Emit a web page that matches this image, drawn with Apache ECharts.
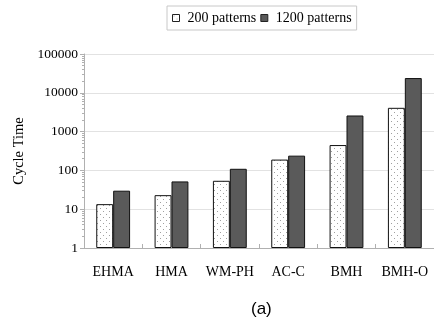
<!DOCTYPE html>
<html>
<head>
<meta charset="utf-8">
<script src="https://cdn.jsdelivr.net/npm/echarts@6/dist/echarts.min.js"></script>
<style>
  html, body { margin: 0; padding: 0; background: #fff; }
  #chart { width: 434px; height: 324px; }
</style>
</head>
<body>
<div id="chart"></div>
<script>
// Algorithms compared and their cycle times (log scale)
const categories = ['EHMA', 'HMA', 'WM-PH', 'AC-C', 'BMH', 'BMH-O'];
const seriesNames = ['200 patterns', '1200 patterns'];
const patterns200 = [13.5, 23, 54, 190, 450, 4100];
const patterns1200 = [30, 52, 110, 240, 2600, 24000];
const yTickLabels = ['1', '10', '100', '1000', '10000', '100000'];

// Dotted fill used for the 200-pattern bars
function dotTile() {
  const c = document.createElement('canvas');
  c.width = 6; c.height = 6;
  const g = c.getContext('2d');
  g.fillStyle = '#ffffff';
  g.fillRect(0, 0, 6, 6);
  g.fillStyle = '#a0a0a0';
  g.fillRect(1, 1, 1, 1);
  g.fillRect(4, 4, 1, 1);
  return c;
}

const serif = 'Liberation Serif';
const chart = echarts.init(document.getElementById('chart'), null, { renderer: 'canvas' });

chart.setOption({
  animation: false,
  backgroundColor: '#ffffff',
  title: {
    text: '(a)',
    left: 251,
    top: 301,
    padding: 0,
    textStyle: { fontFamily: 'Liberation Sans', fontSize: 17, fontWeight: 'normal', color: '#000' }
  },
  legend: {
    data: seriesNames,
    left: 167,
    top: 6,
    padding: [5, 5, 5, 5],
    borderColor: '#c8c8c8',
    borderWidth: 1,
    itemWidth: 7,
    itemHeight: 7,
    itemGap: 4,
    icon: 'rect',
    itemStyle: { borderColor: '#222', borderWidth: 1 },
    textStyle: { fontFamily: serif, fontSize: 14, color: '#000', padding: [0, 0, 0, 3] }
  },
  grid: { left: 84, right: -7, top: 54, bottom: 76 },
  xAxis: {
    type: 'category',
    data: categories,
    axisLine: { lineStyle: { color: '#b0b0b0', width: 1 } },
    axisTick: { show: true, inside: true, length: 4, lineStyle: { color: '#b0b0b0' } },
    axisLabel: { interval: 0, fontFamily: serif, fontSize: 14, color: '#000', margin: 17 }
  },
  yAxis: {
    type: 'log',
    logBase: 10,
    min: 1,
    max: 100000,
    name: 'Cycle Time',
    nameLocation: 'middle',
    nameGap: 56,
    nameTextStyle: { fontFamily: serif, fontSize: 14.5, color: '#000' },
    axisLine: { show: true, lineStyle: { color: '#b0b0b0', width: 1 } },
    axisTick: { show: true, length: 4, lineStyle: { color: '#b0b0b0' } },
    minorTick: { show: true, splitNumber: 9, length: 2, lineStyle: { color: '#b0b0b0' } },
    splitLine: { show: true, lineStyle: { color: '#e2e2e2', width: 1 } },
    axisLabel: {
      fontFamily: serif, fontSize: 13.5, color: '#000', margin: 6,
      formatter: function (v) {
        const i = Math.round(Math.log10(v));
        return yTickLabels[i] !== undefined ? yTickLabels[i] : '';
      }
    }
  },
  series: [
    {
      name: seriesNames[0],
      type: 'bar',
      data: patterns200,
      barGap: '0%',
      barCategoryGap: '42%',
      itemStyle: { color: { image: dotTile(), repeat: 'repeat' }, borderColor: '#111', borderWidth: 1 }
    },
    {
      name: seriesNames[1],
      type: 'bar',
      data: patterns1200,
      itemStyle: { color: '#5a5a5a', borderColor: '#111', borderWidth: 1 }
    }
  ]
});
</script>
</body>
</html>
